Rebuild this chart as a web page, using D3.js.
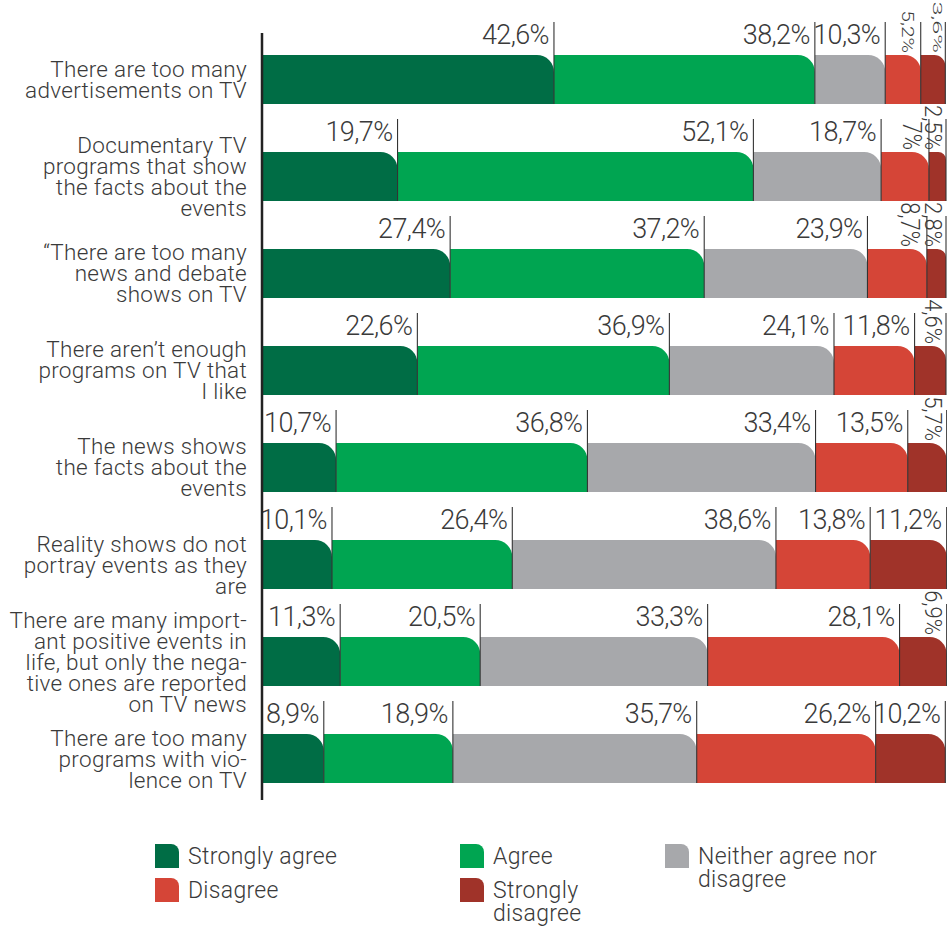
<!DOCTYPE html>
<html>
<head>
<meta charset="utf-8">
<script src="https://cdn.jsdelivr.net/npm/d3@7"></script>
<style>
  html, body { margin: 0; padding: 0; background: #fff; }
  svg { display: block; }
  text { font-family: Roboto, "Noto Sans", sans-serif; font-weight: 300; fill: #3a3a3a; }
</style>
</head>
<body>
<svg id="chart" width="947" height="927"></svg>
<script>
// Survey statements (line breaks as set in the label column)
const categories = [
  "There are too many\nadvertisements on TV",
  "Documentary TV\nprograms that show\nthe facts about the\nevents",
  "\u201CThere are too many\nnews and debate\nshows on TV",
  "There aren\u2019t enough\nprograms on TV that\nI like",
  "The news shows\nthe facts about the\nevents",
  "Reality shows do not\nportray events as they\nare",
  "There are many import-\nant positive events in\nlife, but only the nega-\ntive ones are reported\non TV news",
  "There are too many\nprograms with vio-\nlence on TV"
];

// Answer shares, in percent
const stronglyAgree    = [42.6, 19.7, 27.4, 22.6, 10.7, 10.1, 11.3, 8.9];
const agree            = [38.2, 52.1, 37.2, 36.9, 36.8, 26.4, 20.5, 18.9];
const neither          = [10.3, 18.7, 23.9, 24.1, 33.4, 38.6, 33.3, 35.7];
const disagree         = [5.2, 7, 8.7, 11.8, 13.5, 13.8, 28.1, 26.2];
const stronglyDisagree = [3.6, 2.5, 2.8, 4.6, 5.7, 11.2, 6.9, 10.2];

const seriesKeys = ["sa", "a", "n", "d", "sd"];
const seriesNames = ["Strongly agree", "Agree", "Neither agree nor\ndisagree", "Disagree", "Strongly\ndisagree"];
const seriesColors = ["#006d45", "#00a551", "#a7a8ab", "#d54537", "#a03329"];

// Legend grid: [column, row] for each answer
const legendSlots = [[0, 0], [1, 0], [2, 0], [0, 1], [1, 1]];
const legendCols = [155, 460, 665];
const legendRows = [844, 878];

// Narrow rotated labels in the top row are squeezed: [along, across]
const rotatedSqueeze = { "0-3": [0.95, 0.78], "0-4": [1.15, 0.58] };

const table = categories.map((c, i) => ({
  cat: c,
  sa: stronglyAgree[i], a: agree[i], n: neither[i], d: disagree[i], sd: stronglyDisagree[i]
}));

const stacked = d3.stack().keys(seriesKeys)(table);

const svg = d3.select("#chart");
const W = 947;

const x = d3.scaleLinear().domain([0, 100]).range([263, 946]);
const y = d3.scaleBand().domain(categories).range([55, 783]).paddingInner(0.495).paddingOuter(0);
const bw = y.bandwidth();
const fmt = v => String(v).replace(".", ",") + "%";

function segPath(x0, x1, y0, y1) {
  const w = x1 - x0;
  const r = Math.min(17, w * 0.45);
  return `M${x0},${y0}H${x1 - r}A${r},${r} 0 0 1 ${x1},${y0 + r}V${y1}H${x0}Z`;
}

// Bar segments
const layers = svg.append("g").selectAll("g").data(stacked).join("g")
  .attr("fill", (d, i) => seriesColors[i]);
layers.selectAll("path").data(d => d).join("path")
  .attr("d", d => segPath(x(d[0]), x(d[1]), y(d.data.cat), y(d.data.cat) + bw));

// Value markers and labels
const labelG = svg.append("g");
const fsRot = 22;
stacked.forEach((layer, si) => {
  const isLast = si === seriesKeys.length - 1;
  layer.forEach((d, ri) => {
    const x1 = x(d[1]);
    const top = y(d.data.cat);
    const v = d.data[seriesKeys[si]];
    labelG.append("line")
      .attr("x1", x1).attr("x2", x1)
      .attr("y1", top - 33).attr("y2", top + bw)
      .attr("stroke", "#333").attr("stroke-width", 1.1);
    if (v < 10 && si > 0) {
      const [sx, k] = rotatedSqueeze[ri + "-" + si] || [1, isLast ? 1.05 : 1.2];
      const cap = fsRot * 0.711 * k;
      // keep the glyph box inside the canvas on the right edge
      const bx = isLast ? Math.min(x1 - 3 - cap, W - 0.5 - fsRot * 0.93 * k) : x1 - 7 - cap;
      labelG.append("text")
        .attr("transform", `translate(${bx},${top - 2}) rotate(90) scale(${sx},${k})`)
        .attr("text-anchor", "end")
        .style("font-size", fsRot + "px")
        .text(fmt(v));
    } else {
      labelG.append("text")
        .attr("x", x1 - 5).attr("y", top - 11)
        .attr("text-anchor", "end")
        .style("font-size", "27px")
        .style("letter-spacing", "-0.6px")
        .text(fmt(v));
    }
  });
});

// Vertical axis line
svg.append("line")
  .attr("x1", 262).attr("x2", 262).attr("y1", 33).attr("y2", 800)
  .attr("stroke", "#222").attr("stroke-width", 2.5);

// Statement labels
const lineH = 21, fsCat = 22.5, capCat = fsCat * 0.711;
const catG = svg.append("g");
categories.forEach(c => {
  const lines = c.split("\n");
  const blockH = (lines.length - 1) * lineH + capCat;
  const firstBase = y(c) + bw / 2 - blockH / 2 + capCat;
  const t = catG.append("text")
    .attr("text-anchor", "end")
    .style("font-size", fsCat + "px")
    .style("letter-spacing", "0.3px");
  lines.forEach((ln, i) => {
    t.append("tspan").attr("x", 247).attr("y", firstBase + i * lineH).text(ln);
  });
});

// Legend
const legG = svg.append("g");
seriesNames.forEach((name, i) => {
  const [c, r] = legendSlots[i];
  const lx = legendCols[c], ly = legendRows[r];
  legG.append("path")
    .attr("d", `M${lx},${ly}H${lx + 16}A8,8 0 0 1 ${lx + 24},${ly + 8}V${ly + 24}H${lx}Z`)
    .attr("fill", seriesColors[i]);
  const t = legG.append("text").style("font-size", "23px").style("letter-spacing", "0.3px");
  name.split("\n").forEach((ln, j) => {
    t.append("tspan").attr("x", lx + 33).attr("y", ly + 20 + j * 23).text(ln);
  });
});
</script>
</body>
</html>
